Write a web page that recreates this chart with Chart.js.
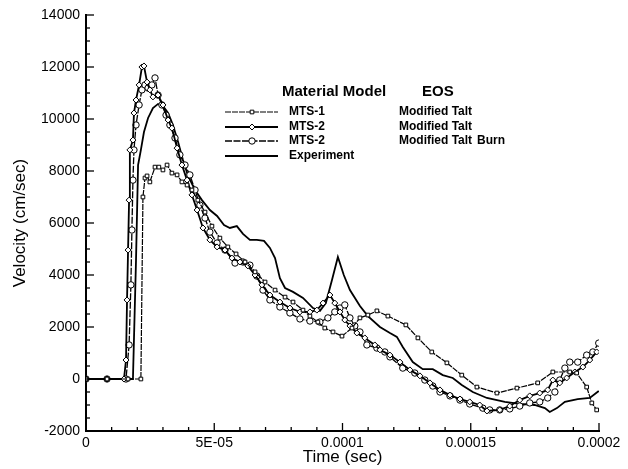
<!DOCTYPE html>
<html><head><meta charset="utf-8">
<script src="https://cdn.jsdelivr.net/npm/chart.js@4.4.0/dist/chart.umd.min.js"></script>
<style>html,body{margin:0;padding:0;background:#fff;}#wrap{width:628px;height:469px;position:relative;}</style>
</head><body><div id="wrap"><canvas id="c" width="628" height="469"></canvas></div>
<script>
// ---- data (time in seconds, velocity in cm/sec) ----
const mts1Time = [0, 8.2e-6, 16.4e-6, 21.4e-6, 22.2e-6, 23.0e-6, 23.8e-6, 24.9e-6, 26.9e-6, 28.4e-6, 30.0e-6, 31.6e-6, 33.5e-6, 35.5e-6, 37.4e-6, 39.4e-6, 41.3e-6, 43.6e-6, 46.4e-6, 49.1e-6, 52.2e-6, 55.3e-6, 58.5e-6, 62.0e-6, 65.9e-6, 69.8e-6, 73.7e-6, 77.6e-6, 80.7e-6, 84.6e-6, 87.3e-6, 90.4e-6, 93.1e-6, 96.3e-6, 99.8e-6, 103.7e-6, 106.8e-6, 109.9e-6, 113.4e-6, 117.7e-6, 124.7e-6, 129.4e-6, 134.8e-6, 140.7e-6, 146.5e-6, 152.4e-6, 160.2e-6, 168.0e-6, 176.1e-6, 182.0e-6, 188.6e-6, 191.3e-6, 195.2e-6, 197.2e-6, 199.1e-6];
const mts1Vel = [0, 0, 0, 0, 7000, 7730, 7810, 7580, 8150, 8150, 8040, 8230, 7920, 7850, 7580, 7460, 7270, 6880, 6420, 5880, 5420, 5080, 4810, 4500, 4120, 3730, 3420, 3150, 2960, 2650, 2420, 2190, 1960, 1810, 1650, 1960, 2350, 2460, 2620, 2420, 2080, 1580, 1040, 620, 150, -310, -540, -350, -150, 270, 270, 230, -310, -920, -1190];

const mts2Time = [0, 8.2e-6, 14.8e-6, 15.6e-6, 16.0e-6, 16.4e-6, 16.8e-6, 17.1e-6, 18.3e-6, 18.7e-6, 19.5e-6, 20.7e-6, 21.8e-6, 22.6e-6, 23.8e-6, 24.9e-6, 26.1e-6, 28.1e-6, 30.0e-6, 32.0e-6, 33.5e-6, 35.5e-6, 37.4e-6, 39.4e-6, 41.3e-6, 43.3e-6, 45.6e-6, 48.3e-6, 51.1e-6, 54.2e-6, 56.9e-6, 60.0e-6, 63.1e-6, 65.9e-6, 68.6e-6, 71.7e-6, 75.6e-6, 79.5e-6, 83.4e-6, 87.3e-6, 90.0e-6, 92.4e-6, 95.1e-6, 97.0e-6, 99.0e-6, 100.9e-6, 102.9e-6, 105.6e-6, 108.7e-6, 112.6e-6, 114.6e-6, 118.5e-6, 122.4e-6, 126.3e-6, 130.2e-6, 134.1e-6, 138.0e-6, 141.9e-6, 145.8e-6, 149.6e-6, 153.5e-6, 156.3e-6, 161.3e-6, 165.2e-6, 169.1e-6, 173.0e-6, 176.9e-6, 180.0e-6, 182.0e-6, 184.7e-6, 187.4e-6, 190.6e-6, 193.7e-6, 196.4e-6, 199.1e-6];
const mts2Vel = [0, 0, 0, 730, 3040, 4960, 6880, 8810, 9190, 10230, 10730, 11310, 12000, 12040, 11420, 11120, 10850, 10920, 10540, 9960, 9650, 8880, 8230, 7650, 7080, 6500, 5810, 5350, 5080, 4960, 4650, 4500, 4350, 4000, 3620, 3230, 2960, 2730, 2580, 2580, 2650, 2920, 3230, 2920, 2580, 2270, 2040, 1770, 1580, 1310, 1120, 920, 650, 350, 120, -150, -420, -620, -770, -880, -1000, -1230, -1190, -1040, -810, -650, -540, -420, -40, -150, 40, 270, 460, 730, 1040];

const burnTime = [0, 8.2e-6, 15.6e-6, 16.8e-6, 17.5e-6, 17.9e-6, 18.3e-6, 18.7e-6, 19.5e-6, 20.7e-6, 21.8e-6, 23.0e-6, 24.2e-6, 25.7e-6, 26.9e-6, 28.1e-6, 29.6e-6, 31.2e-6, 32.7e-6, 34.7e-6, 36.6e-6, 38.6e-6, 40.5e-6, 42.5e-6, 44.4e-6, 46.4e-6, 48.3e-6, 51.1e-6, 54.2e-6, 58.1e-6, 61.2e-6, 63.9e-6, 66.6e-6, 69.0e-6, 71.7e-6, 75.6e-6, 79.5e-6, 83.4e-6, 87.3e-6, 91.2e-6, 94.3e-6, 97.0e-6, 99.0e-6, 100.9e-6, 102.9e-6, 104.8e-6, 106.8e-6, 109.5e-6, 113.4e-6, 116.5e-6, 118.5e-6, 123.5e-6, 128.2e-6, 132.1e-6, 135.2e-6, 138.0e-6, 141.9e-6, 145.8e-6, 149.6e-6, 154.7e-6, 157.4e-6, 161.3e-6, 165.2e-6, 169.1e-6, 173.0e-6, 176.9e-6, 180.0e-6, 182.8e-6, 184.7e-6, 186.7e-6, 188.6e-6, 191.7e-6, 195.2e-6, 197.6e-6, 199.9e-6];
const burnVel = [0, 0, 0, 1310, 3620, 5730, 7650, 8810, 9770, 10540, 11120, 11310, 11190, 11310, 11580, 10920, 10540, 10150, 9770, 9270, 8620, 8230, 7850, 7270, 6690, 6190, 5650, 5230, 4960, 4460, 4500, 4380, 3960, 3420, 3040, 2770, 2540, 2310, 2230, 2190, 2350, 2580, 2730, 2850, 2350, 2040, 1810, 1310, 1190, 1040, 850, 420, 230, -40, -270, -500, -650, -810, -960, -1120, -1190, -1190, -1150, -1040, -920, -880, -730, -500, -40, 420, 650, 650, 920, 1040, 1380];

const expTime = [0, 18.3e-6, 19.5e-6, 20.3e-6, 21.4e-6, 22.6e-6, 24.2e-6, 26.1e-6, 28.1e-6, 30.0e-6, 32.0e-6, 33.9e-6, 35.9e-6, 37.8e-6, 39.8e-6, 42.5e-6, 45.2e-6, 48.3e-6, 51.1e-6, 53.8e-6, 56.1e-6, 58.8e-6, 61.2e-6, 63.9e-6, 66.6e-6, 69.4e-6, 71.7e-6, 73.7e-6, 75.6e-6, 77.6e-6, 80.7e-6, 84.6e-6, 88.5e-6, 91.2e-6, 93.5e-6, 95.9e-6, 98.2e-6, 100.5e-6, 102.9e-6, 106.8e-6, 109.9e-6, 114.6e-6, 118.5e-6, 121.2e-6, 123.5e-6, 127.4e-6, 131.3e-6, 135.2e-6, 139.1e-6, 143.0e-6, 146.5e-6, 150.8e-6, 156.3e-6, 163.3e-6, 169.1e-6, 174.9e-6, 178.9e-6, 180.8e-6, 183.6e-6, 186.7e-6, 191.7e-6, 196.4e-6, 199.9e-6];
const expVel = [0, 0, 4580, 8230, 8810, 9500, 10040, 10420, 10580, 10500, 10230, 9770, 9120, 8420, 7810, 7270, 6880, 6500, 6270, 5920, 5810, 5880, 5580, 5350, 5350, 5310, 5040, 4650, 3880, 3500, 3350, 3120, 2730, 2620, 2920, 3810, 4690, 4000, 3420, 2810, 2420, 2000, 1770, 1620, 1230, 650, 380, 380, 150, 40, -230, -500, -730, -880, -960, -1000, -1120, -1270, -1120, -880, -770, -730, -460];

const xTickLabels = ['0', '5E-05', '0.0001', '0.00015', '0.0002'];
const yTickLabels = ['-2000', '0', '2000', '4000', '6000', '8000', '10000', '12000', '14000'];
const legendModels = ['MTS-1', 'MTS-2', 'MTS-2', 'Experiment'];
const legendEos = ['Modified Talt', 'Modified Talt', 'Modified Talt', ''];
const legendExtra = ['', '', 'Burn', ''];
const xTitle = 'Time (sec)';
const yTitle = 'Velocity (cm/sec)';

const FONT = '"Liberation Sans", Arial, Helvetica, sans-serif';

function pts(ts, vs) { return ts.map((t, i) => ({x: t, y: vs[i]})); }

const datasets = [
  {label: legendModels[0], data: pts(mts1Time, mts1Vel), borderColor: '#000', borderWidth: 1.2, borderDash: [6, 1],
   pointStyle: 'rect', pointRadius: 2.6, pointBackgroundColor: '#fff', pointBorderColor: '#000', pointBorderWidth: 1},
  {label: legendModels[1], data: pts(mts2Time, mts2Vel), borderColor: '#000', borderWidth: 1.8, borderDash: [],
   pointStyle: 'rectRot', pointRadius: 3, pointBackgroundColor: '#fff', pointBorderColor: '#000', pointBorderWidth: 1},
  {label: legendModels[2], data: pts(burnTime, burnVel), borderColor: '#000', borderWidth: 1.3, borderDash: [7, 1.5],
   pointStyle: 'circle', pointRadius: 3.2, pointBackgroundColor: '#fff', pointBorderColor: '#000', pointBorderWidth: 1},
  {label: legendModels[3], data: pts(expTime, expVel), borderColor: '#000', borderWidth: 1.8, borderDash: [],
   pointRadius: 0, pointStyle: false}
];

const inwardTicks = {
  id: 'inwardTicks',
  afterDraw(chart) {
    const ctx = chart.ctx, xs = chart.scales.x, ys = chart.scales.y;
    ctx.save();
    ctx.strokeStyle = '#000';
    ctx.lineWidth = 1.3;
    ys.ticks.forEach((t, i) => {
      const py = ys.getPixelForValue(t.value);
      const len = (i % 4 === 0) ? 8 : 4;
      ctx.beginPath(); ctx.moveTo(xs.left, py); ctx.lineTo(xs.left + len, py); ctx.stroke();
    });
    xs.ticks.forEach((t, i) => {
      const px = xs.getPixelForValue(t.value);
      const len = (i % 5 === 0) ? 8 : 4;
      ctx.beginPath(); ctx.moveTo(px, ys.bottom); ctx.lineTo(px, ys.bottom - len); ctx.stroke();
    });
    ctx.restore();
  }
};

const legendPlugin = {
  id: 'customLegend',
  afterDraw(chart) {
    const ctx = chart.ctx;
    ctx.save();
    ctx.fillStyle = '#000';
    ctx.textBaseline = 'middle';
    ctx.font = 'bold 15px ' + FONT;
    ctx.fillText('Material Model', 282, 92);
    ctx.fillText('EOS', 422, 92);
    const rows = [112, 127, 141, 156];
    ctx.font = 'bold 12px ' + FONT;
    datasets.forEach((ds, i) => {
      const y = rows[i];
      ctx.strokeStyle = '#000';
      ctx.lineWidth = ds.borderWidth;
      ctx.setLineDash(ds.borderDash || []);
      ctx.beginPath(); ctx.moveTo(225, y); ctx.lineTo(278, y); ctx.stroke();
      ctx.setLineDash([]);
      if (ds.pointRadius > 0) {
        ctx.fillStyle = '#fff'; ctx.strokeStyle = '#000'; ctx.lineWidth = 1;
        Chart.helpers.drawPoint(ctx, {pointStyle: ds.pointStyle, radius: ds.pointRadius, borderWidth: 1, rotation: 0}, 252, y);
      }
      ctx.fillStyle = '#000';
      ctx.fillText(legendModels[i], 289, y);
      if (legendEos[i]) ctx.fillText(legendEos[i], 399, y);
      if (legendExtra[i]) ctx.fillText(legendExtra[i], 477, y);
    });
    ctx.restore();
  }
};

new Chart(document.getElementById('c'), {
  type: 'line',
  data: {datasets},
  options: {
    responsive: false,
    animation: false,
    devicePixelRatio: 1,
    layout: {padding: {top: 15, right: 29, left: 0, bottom: 0}},
    plugins: {legend: {display: false}, tooltip: {enabled: false}},
    elements: {line: {tension: 0}},
    scales: {
      x: {
        type: 'linear', min: 0, max: 0.0002,
        afterFit(s) { s.height = 38; },
        grid: {display: false, drawTicks: false},
        border: {display: true, color: '#000', width: 2},
        ticks: {stepSize: 1e-5, autoSkip: false, maxRotation: 0, padding: 4, color: '#000',
                font: {family: FONT, size: 14},
                callback: (v, i) => (i % 5 === 0 ? xTickLabels[i / 5] : '')},
        title: {display: true, text: xTitle, color: '#000', font: {family: FONT, size: 17}, padding: {top: 0, bottom: 1}}
      },
      y: {
        type: 'linear', min: -2000, max: 14000,
        afterFit(s) { s.width = 86; },
        grid: {display: false, drawTicks: false},
        border: {display: true, color: '#000', width: 2},
        ticks: {stepSize: 500, autoSkip: false, padding: 6, color: '#000',
                font: {family: FONT, size: 14},
                callback: (v, i) => (i % 4 === 0 ? yTickLabels[i / 4] : '')},
        title: {display: true, text: yTitle, color: '#000', font: {family: FONT, size: 17}, padding: {top: 10, bottom: 0}}
      }
    }
  },
  plugins: [inwardTicks, legendPlugin]
});
</script></body></html>
